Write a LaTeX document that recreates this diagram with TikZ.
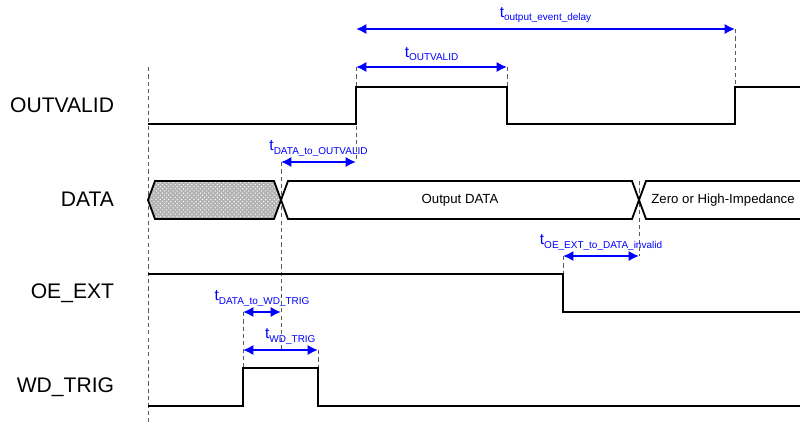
\documentclass[tikz,border=0pt]{standalone}
\usepackage{fontspec}
\setmainfont{Liberation Sans}
\usetikzlibrary{arrows.meta,patterns}

\newcommand{\tlab}[1]{{\fontsize{11}{13}\selectfont t}{\fontsize{7.1}{8}\selectfont\raisebox{-2.2pt}{#1}}}

\begin{document}
\begin{tikzpicture}[x=0.025cm,y=-0.025cm,>={Latex[length=2.6mm,width=2.6mm]},
  sig/.style={line width=1.3pt,line join=miter},
  guide/.style={line width=0.7pt,gray!70!black,dash pattern=on 3pt off 2.2pt},
  tim/.style={<->,blue,line width=1.5pt},
  tname/.style={blue,inner sep=1pt,above=2.5pt},
  signame/.style={anchor=east,font=\fontsize{15}{18}\selectfont},
  busname/.style={font=\fontsize{9.4}{11}\selectfont}]
  \useasboundingbox (0,0) rectangle (800,423);
  % signal names
  \node[signame] (nOV) at (119,105) {OUTVALID};
  \node[signame] (nDATA) at (119,199) {DATA};
  \node[signame] (nOE) at (119,293) {OE\_EXT};
  \node[signame] (nWD) at (119,387) {WD\_TRIG};
  % edges
  \coordinate (OVr) at (356,87);
  \coordinate (OVf) at (507,87);
  \coordinate (OVr2) at (735,87);
  \coordinate (X1) at (281,200);
  \coordinate (X2) at (639,200);
  \coordinate (OEf) at (563,274);
  \coordinate (WDr) at (243,368);
  \coordinate (WDf) at (318,368);
  % arrow ends
  \coordinate (E1) at (356,29);
  \coordinate (E2) at (735,29);
  \coordinate (V1) at (356,67);
  \coordinate (V2) at (507,67);
  \coordinate (D1) at (281,162);
  \coordinate (D2) at (356,162);
  \coordinate (I1) at (563,256);
  \coordinate (I2) at (639,256);
  \coordinate (W1) at (243,312);
  \coordinate (W2) at (281,312);
  \coordinate (P1) at (243,350);
  \coordinate (P2) at (318,350);
  % guides
  \draw[guide] (148,67)--(148,423);
  \draw[guide] (V1)--(D2);
  \draw[guide] (V2)--(OVf);
  \draw[guide] (E2)--(OVr2);
  \draw[guide] (D1)--(281,351);
  \draw[guide] (639,181)--(I2);
  \draw[guide] (I1)--(OEf);
  \draw[guide] (W1)--(WDr);
  \draw[guide] (P2)--(WDf);
  % OUTVALID
  \draw[sig] (148,124)--(356,124)--(OVr)--(OVf)--(507,124)--(735,124)--(OVr2)--(800,87);
  % DATA
  \fill[gray!60] (148,200)--(155,181)--(274,181)--(X1)--(274,219)--(155,219)--cycle;
  \fill[pattern=crosshatch dots,pattern color=white] (148,200)--(155,181)--(274,181)--(X1)--(274,219)--(155,219)--cycle;
  \draw[sig] (148,200)--(155,181)--(274,181)--(X1)--(274,219)--(155,219)--cycle;
  \draw[sig] (X1)--(288,181)--(632,181)--(X2)--(632,219)--(288,219)--cycle;
  \draw[sig] (800,181)--(646,181)--(X2)--(646,219)--(800,219);
  \node[busname] (bOut) at (460,200) {Output DATA};
  \node[busname] (bZero) at (723,200) {Zero or High-Impedance};
  % OE_EXT
  \draw[sig] (148,274)--(OEf)--(563,312)--(800,312);
  % WD_TRIG
  \draw[sig] (148,406)--(243,406)--(WDr)--(WDf)--(318,406)--(800,406);
  % timings
  \draw[tim] (E1)--(E2) node[midway,tname]{\tlab{output\_event\_delay}};
  \draw[tim] (V1)--(V2) node[midway,tname]{\tlab{OUTVALID}};
  \draw[tim] (D1)--(D2) node[midway,tname]{\tlab{DATA\_to\_OUTVALID}};
  \draw[tim] (I1)--(I2) node[midway,tname]{\tlab{OE\_EXT\_to\_DATA\_invalid}};
  \draw[tim] (W1)--(W2) node[midway,tname]{\tlab{DATA\_to\_WD\_TRIG}};
  \draw[tim] (P1)--(P2) node[midway,tname,xshift=7pt]{\tlab{WD\_TRIG}};
\end{tikzpicture}
\end{document}
